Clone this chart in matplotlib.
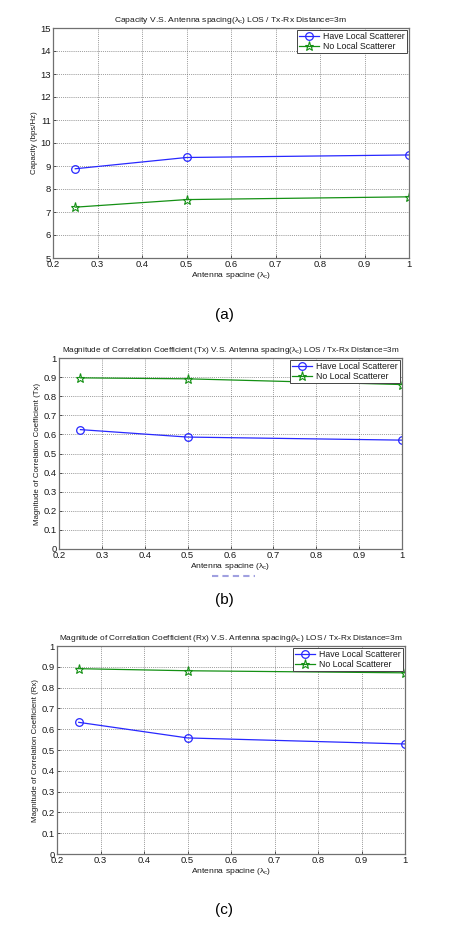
"""Capacity and correlation coefficient vs antenna spacing (three stacked panels)."""

import matplotlib
matplotlib.use('Agg')
import matplotlib.pyplot as plt
import matplotlib.ticker as mticker
from matplotlib.lines import Line2D

plt.rcParams['font.family'] = ['Liberation Sans', 'DejaVu Sans']
plt.rcParams['mathtext.fontset'] = 'custom'
plt.rcParams['mathtext.rm'] = 'Liberation Sans'
plt.rcParams['mathtext.it'] = 'Liberation Sans'

# --- data ---
spacing = [0.25, 0.5, 1.0]

cap_have = [8.88, 9.37, 9.48]
cap_none = [7.21, 7.54, 7.66]

tx_have = [0.625, 0.586, 0.570]
tx_none = [0.896, 0.891, 0.861]

rx_have = [0.633, 0.558, 0.529]
rx_none = [0.891, 0.881, 0.871]

legend_labels = ['Have Local Scatterer', 'No Local Scatterer']
x_ticks = [0.2, 0.3, 0.4, 0.5, 0.6, 0.7, 0.8, 0.9, 1.0]
cap_ticks = list(range(5, 16))
corr_ticks = [0, 0.1, 0.2, 0.3, 0.4, 0.5, 0.6, 0.7, 0.8, 0.9, 1.0]

BLUE = '#2828ff'
GREEN = '#149014'
TXT = '#1a1a1a'

W, H = 451, 925
fig = plt.figure(figsize=(W / 100, H / 100), dpi=100)


def px_axes(x0, y0, x1, y1):
    return fig.add_axes([x0 / W, 1 - y1 / H, (x1 - x0) / W, (y1 - y0) / H])


def draw_panel(ax, have, none, yticks, ylim, title, ylabel, title_size):
    ax.plot(spacing, have, color=BLUE, marker='o', markersize=5.5,
            markerfacecolor='none', markeredgewidth=0.9, linewidth=0.9)
    ax.plot(spacing, none, color=GREEN, marker='*', markersize=6.5,
            markerfacecolor='none', markeredgewidth=0.8, linewidth=0.9)
    ax.set_xlim(0.2, 1.0)
    ax.set_ylim(*ylim)
    ax.set_xticks(x_ticks)
    ax.set_yticks(yticks)
    ax.xaxis.set_major_formatter(mticker.FormatStrFormatter('%g'))
    ax.yaxis.set_major_formatter(mticker.FormatStrFormatter('%g'))
    ax.tick_params(direction='in', length=2, width=0.5, labelsize=6.8,
                   pad=1.5, colors=TXT)
    ax.grid(True, linestyle=(0, (1, 1.5)), color='#666666', linewidth=0.55)
    for s in ax.spines.values():
        s.set_color('#707070')
        s.set_linewidth(0.9)
    ax.set_title(title, fontsize=title_size, pad=4, color=TXT)
    ax.set_xlabel(r'Antenna spacine ($\lambda_c$)', fontsize=6.1, labelpad=1,
                  color=TXT)
    ax.set_ylabel(ylabel, fontsize=5.7, labelpad=2, color=TXT)
    handles = [
        Line2D([0], [0], color=BLUE, marker='o', markerfacecolor='none',
               markersize=5.5, linewidth=0.9, markeredgewidth=0.9),
        Line2D([0], [0], color=GREEN, marker='*', markerfacecolor='none',
               markersize=6.5, linewidth=0.9, markeredgewidth=0.8),
    ]
    leg = ax.legend(handles, legend_labels, loc='upper right', fontsize=6.3,
                    fancybox=False, framealpha=1, borderpad=0.25,
                    handlelength=2.2, handletextpad=0.5, labelspacing=0.05,
                    borderaxespad=0.25)
    leg.get_frame().set_edgecolor('#444444')
    leg.get_frame().set_linewidth(0.7)
    for t in leg.get_texts():
        t.set_color(TXT)


ax_a = px_axes(53, 28, 409, 258)
draw_panel(ax_a, cap_have, cap_none, cap_ticks, (5, 15),
           r'Capacity V.S. Antenna spacing($\lambda_c$) LOS / Tx-Rx Distance=3m',
           'Capacity (bps/Hz)', 6.1)

ax_b = px_axes(59, 358, 402, 549)
draw_panel(ax_b, tx_have, tx_none, corr_ticks, (0, 1),
           r'Magnitude of Correlation Coefficient (Tx) V.S. Antenna spacing($\lambda_c$) LOS / Tx-Rx Distance=3m',
           'Magnitude of Correlation Coefficient (Tx)', 5.85)

ax_c = px_axes(57, 646, 405, 854)
draw_panel(ax_c, rx_have, rx_none, corr_ticks, (0, 1),
           r'Magnitude of Correlation Coefficient (Rx) V.S. Antenna spacing($\lambda_c$) LOS / Tx-Rx Distance=3m',
           'Magnitude of Correlation Coefficient (Rx)', 5.95)

# panel captions
for label, y in [('(a)', 315), ('(b)', 600), ('(c)', 910)]:
    fig.text(224 / W, 1 - y / H, label, ha='center', va='center', fontsize=11)

# faint scan artefact under panel (b)
fig.lines.append(Line2D([212 / W, 255 / W], [1 - 576 / H, 1 - 576 / H],
                        transform=fig.transFigure, color='#a0a0e0',
                        linewidth=1.5, linestyle=(0, (3, 2))))

fig.savefig('out.png', dpi=100)
